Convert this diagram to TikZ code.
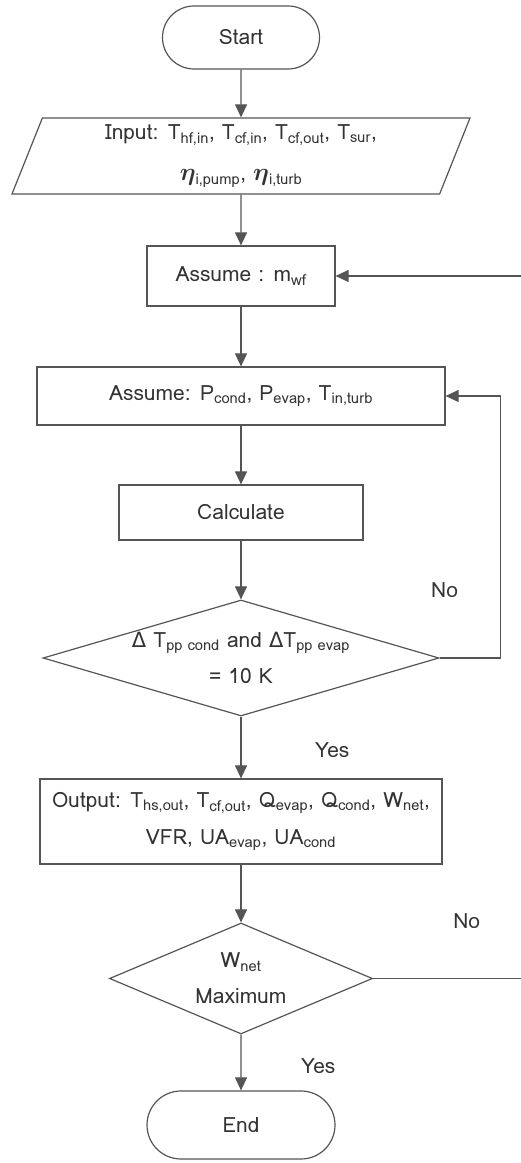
\documentclass[tikz,border=0pt]{standalone}
\usepackage{amsmath}
\usepackage{bm}
\usepackage{fontspec}
\setmainfont{Loma}
\newfontfamily\deltafont{DejaVu Sans}
\usetikzlibrary{arrows.meta, positioning, shapes.geometric, shapes.misc}
\definecolor{CLine}{HTML}{555555}
\definecolor{CText}{HTML}{333333}
\newcommand{\sbs}[1]{\textsubscript{#1}}
\newcommand{\dlt}{{\deltafont Δ}}
\newcommand{\effsym}{{\fontsize{29}{29}\selectfont$\bm{\eta}$}}
\tikzset{
    terminal/.style={
        rounded rectangle,
        draw=CLine,
        fill=white,
        inner sep=0pt,
        font=\fontsize{21}{37}\selectfont,
        text=CText,
        line width=1.2pt
    },
    process/.style={
        rectangle,
        draw=CLine,
        fill=white,
        inner sep=0pt,
        align=center,
        font=\fontsize{21}{37}\selectfont,
        text=CText,
        line width=1.2pt
    },
    inout/.style={
        trapezium,
        trapezium left angle=64,
        trapezium right angle=116,
        trapezium stretches body=true,
        draw=CLine,
        fill=white,
        inner sep=0pt,
        align=center,
        font=\fontsize{21}{41}\selectfont,
        text=CText,
        line width=1.2pt
    },
    decision/.style={
        diamond,
        draw=CLine,
        fill=white,
        inner sep=0pt,
        align=center,
        font=\fontsize{21}{36}\selectfont,
        text=CText,
        line width=1.2pt
    },
    flow/.style={
        -{Triangle[length=13pt, width=12pt]},
        draw=CLine,
        line width=1.2pt
    },
    lbl/.style={
        inner sep=0pt,
        font=\fontsize{21}{25}\selectfont,
        text=CText
    }
}
\begin{document}
\begin{tikzpicture}[x=1pt, y=1pt]
    \useasboundingbox (0,0) rectangle (520,1163);

    % Blocks
    \node (start) [terminal, minimum width=157pt, minimum height=63pt] at (241, 1125.5) {Start};
    \node (input) [inout, minimum width=458pt, minimum height=76pt] at (241, 1007)
        {Input: T\sbs{hf,in}, T\sbs{cf,in}, T\sbs{cf,out}, T\sbs{sur},\\ \effsym\sbs{i,pump}, \effsym\sbs{i,turb}};
    \node (assumem) [process, minimum width=188pt, minimum height=60pt] at (241, 887) {Assume : m\sbs{wf}};
    \node (assumep) [process, minimum width=408pt, minimum height=58pt] at (241, 767)
        {Assume: P\sbs{cond}, P\sbs{evap}, T\sbs{in,turb}};
    \node (calc) [process, minimum width=244pt, minimum height=55pt] at (241, 650.5) {Calculate};
    \node (check1) [decision, aspect=3.41, minimum width=396pt, minimum height=116pt] at (241, 505)
        {\dlt{} T\sbs{pp cond} and \dlt T\sbs{pp evap}\\ = 10 K};
    \node (output) [process, minimum width=402pt, minimum height=85pt] at (241, 341.5)
        {Output: T\sbs{hs,out}, T\sbs{cf,out}, Q\sbs{evap}, Q\sbs{cond}, W\sbs{net},\\ VFR, UA\sbs{evap}, UA\sbs{cond}};
    \node (check2) [decision, aspect=2.37, minimum width=263pt, minimum height=111pt] at (241, 184.5)
        {W\sbs{net}\\ Maximum};
    \node (stop) [terminal, minimum width=188pt, minimum height=68pt] at (241, 38) {End};

    % Main flow
    \draw[flow] (start) -- (input);
    \draw[flow] (input) -- (assumem);
    \draw[flow] (assumem) -- (assumep);
    \draw[flow] (assumep) -- (calc);
    \draw[flow] (calc) -- (check1);
    \draw[flow] (check1) -- (output);
    \draw[flow] (output) -- (check2);
    \draw[flow] (check2) -- (stop);

    % Loops back
    \draw[flow] (check1.east) -- ++(61,0) |- (assumep.east);
    \draw[flow] (check2.east) -- ++(150,0) |- (assumem.east);

    % Branch labels
    \node (no1) [lbl, above=60pt of check1.east, xshift=5pt] {No};
    \node (yes1) [lbl, below right=26pt and 74pt of check1.south] {Yes};
    \node (no2) [lbl, above right=50pt and 80pt of check2.east] {No};
    \node (yes2) [lbl, below right=24pt and 60pt of check2.south] {Yes};
\end{tikzpicture}
\end{document}
